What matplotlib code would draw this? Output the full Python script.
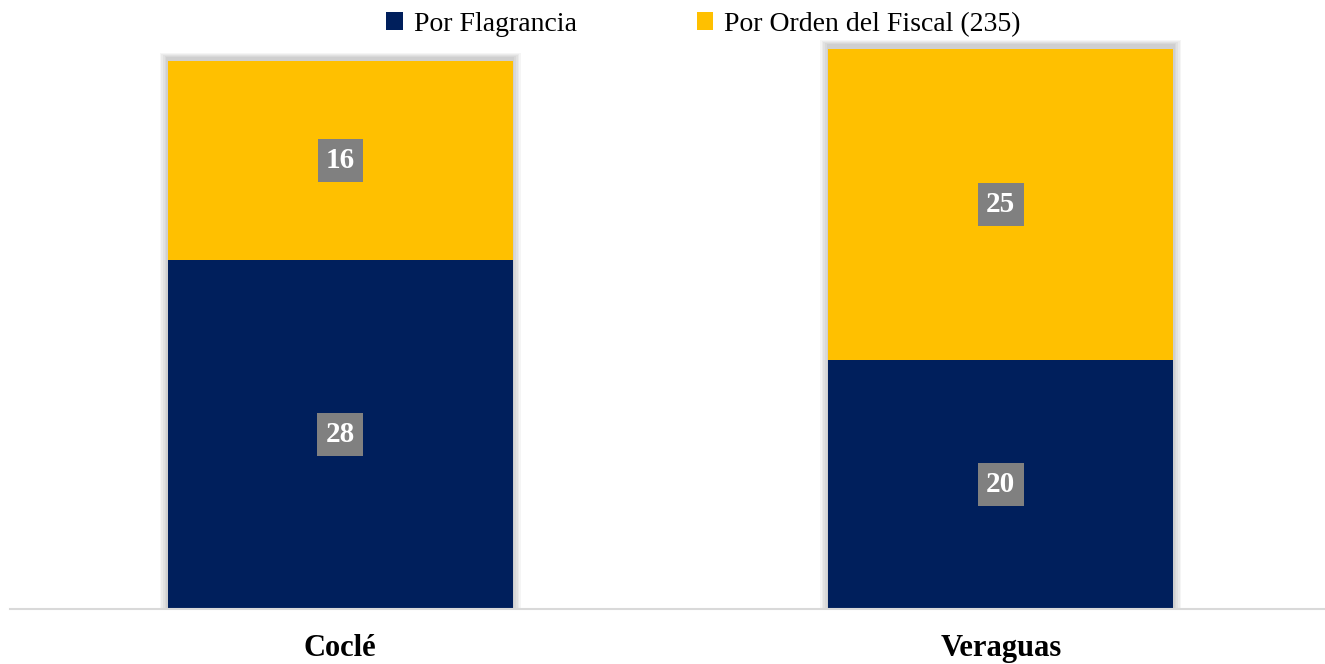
import matplotlib.pyplot as plt
from matplotlib.patches import Rectangle

# Datos
categorias = ["Coclé", "Veraguas"]
flagrancia = [28, 20]
orden_fiscal = [16, 25]
series = ["Por Flagrancia", "Por Orden del Fiscal (235)"]

AZUL = "#001f5c"
AMARILLO = "#ffc000"

plt.rcParams['font.family'] = ['Liberation Serif', 'DejaVu Serif']

fig = plt.figure(figsize=(13.25, 6.64), dpi=100)
ax = fig.add_axes([10 / 1325, 55 / 664, 1321 / 1325, 597.6 / 664])

x = list(range(len(categorias)))
ancho = 0.522

# sombra difusa detrás de cada columna
for i in x:
    total = flagrancia[i] + orden_fiscal[i]
    for k in range(5):
        pad = 0.0025 * (k + 1)
        ax.add_patch(Rectangle((i - ancho / 2 - pad, 0), ancho + 2 * pad, total + 0.3 + pad * 30,
                               color="black", alpha=0.04, lw=0, zorder=1))

b1 = ax.bar(x, flagrancia, ancho, color=AZUL, label=series[0], zorder=2)
b2 = ax.bar(x, orden_fiscal, ancho, bottom=flagrancia, color=AMARILLO, label=series[1], zorder=2)

# etiquetas de valores
for i in x:
    for val, base in ((flagrancia[i], 0), (orden_fiscal[i], flagrancia[i])):
        ax.text(i, base + val / 2, str(val), ha='center', va='center', fontsize=21,
                fontweight='bold', color='white', zorder=4,
                bbox=dict(boxstyle='square,pad=0.28', fc='#808080', ec='none'))

ax.set_xlim(-0.5, 1.5)
ax.set_ylim(0, 48)
ax.set_yticks([])
ax.set_xticks(x)
ax.set_xticklabels(categorias, fontsize=22, fontweight='bold')
ax.tick_params(axis='x', length=0, pad=18)
for s in ('top', 'right', 'left'):
    ax.spines[s].set_visible(False)
ax.spines['bottom'].set_color('#d9d9d9')
ax.spines['bottom'].set_linewidth(1.5)
ax.spines['bottom'].set_zorder(3)

fig.legend(handles=[b1, b2], labels=series, loc='center', bbox_to_anchor=(0.531, 0.963),
           ncol=2, frameon=False, fontsize=20, handlelength=0.6, handleheight=0.6,
           handletextpad=0.4, columnspacing=4.3)

fig.savefig("out.png", dpi=100)
